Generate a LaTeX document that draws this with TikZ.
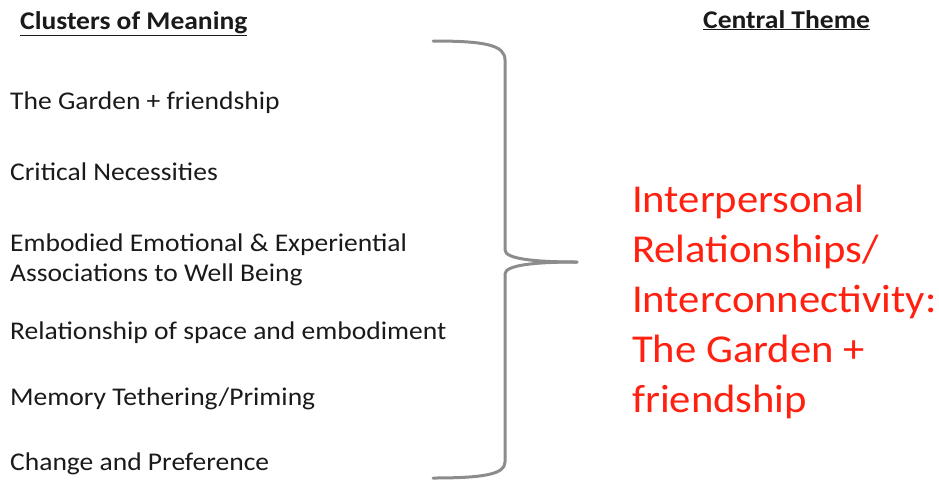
\documentclass[tikz,border=0pt]{standalone}
\usepackage{fontspec}
\setmainfont[FakeStretch=1.08]{Carlito}
\definecolor{inkdark}{RGB}{26,26,26}
\definecolor{themered}{RGB}{255,32,16}
\definecolor{bracegray}{RGB}{140,140,140}
\begin{document}
\begin{tikzpicture}[x=1pt,y=-1pt,
  heading/.style={anchor=base west,inner sep=0pt,font=\fontsize{25.5}{30}\selectfont\bfseries,text=inkdark},
  cluster/.style={anchor=base west,inner sep=0pt,font=\fontsize{25.5}{30}\selectfont,text=inkdark,align=left},
  theme/.style={anchor=base west,inner sep=0pt,font=\fontsize{39.5}{50}\selectfont,text=themered,align=left},
  bracepath/.style={draw=bracegray,line width=3pt,line cap=round,line join=round}]
\useasboundingbox (0,0) rectangle (939,480);

% column headings
\node[heading] (hclusters) at (20,29) {\underline{Clusters of Meaning}};
\node[heading] (htheme) at (703,28) {\underline{Central Theme}};

% clusters of meaning (multi-line nodes sit on their last baseline)
\node[cluster] (c1) at (10,109) {The Garden + friendship};
\node[cluster] (c2) at (10,180) {Critical Necessities};
\node[cluster] (c3) at (10,281) {Embodied Emotional \& Experiential\\Associations to Well Being};
\node[cluster] (c4) at (10,339) {Relationship of space and embodiment};
\node[cluster] (c5) at (10,405) {Memory Tethering/Priming};
\node[cluster] (c6) at (10,470) {Change and Preference};

% curly brace gathering the clusters
\draw[bracepath] (433,41) .. controls (485,41) and (505,45) .. (505,60)
  -- (505,250) .. controls (505,259) and (535,262) .. (577,262);
\draw[bracepath] (577,262) .. controls (535,262) and (505,265) .. (505,274)
  -- (505,462) .. controls (505,474) and (485,478) .. (433,478);

% central theme
\node[theme] (t) at (632,412) {Interpersonal\\Relationships/\\Interconnectivity:\\The Garden +\\friendship};
\end{tikzpicture}
\end{document}
